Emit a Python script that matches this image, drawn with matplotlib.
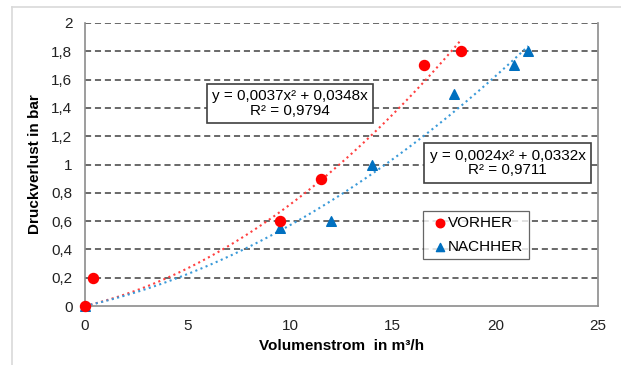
import numpy as np
import matplotlib
matplotlib.use("Agg")
import matplotlib.pyplot as plt
from matplotlib.lines import Line2D

plt.rcParams['font.family'] = ['Liberation Sans', 'DejaVu Sans']

# data
vorher_x = [0, 0.4, 9.5, 11.5, 16.5, 18.3]
vorher_y = [0, 0.2, 0.6, 0.9, 1.7, 1.8]
nachher_x = [0, 9.5, 12.0, 14.0, 18.0, 20.9, 21.6]
nachher_y = [0, 0.55, 0.6, 1.0, 1.5, 1.7, 1.8]

# trendline coefficients (a*x^2 + b*x) as printed
vorher_fit = [0.0037, 0.0348, 0.0]
nachher_fit = [0.0024, 0.0332, 0.0]
vorher_text = "y = 0,0037x\u00b2 + 0,0348x\nR\u00b2 = 0,9794"
nachher_text = "y = 0,0024x\u00b2 + 0,0332x\nR\u00b2 = 0,9711"

yticks = [0, 0.2, 0.4, 0.6, 0.8, 1.0, 1.2, 1.4, 1.6, 1.8, 2.0]
xticks = [0, 5, 10, 15, 20, 25]

fig = plt.figure(figsize=(6.21, 3.65), dpi=100)
ax = fig.add_axes([85 / 621, 1 - 306 / 365, (598 - 85) / 621, (306 - 23) / 365])

# outer chart border (light gray)
fig.add_artist(Line2D([12 / 621, 12 / 621], [0, 1 - 7 / 365], transform=fig.transFigure,
                      color='#d9d9d9', lw=1.2))
fig.add_artist(Line2D([12 / 621, 1], [1 - 7 / 365, 1 - 7 / 365], transform=fig.transFigure,
                      color='#d9d9d9', lw=1.2))

ax.set_xlim(0, 25)
ax.set_ylim(0, 2)

# dashed horizontal grid
for yv in yticks[1:]:
    ax.axhline(yv, color='#404040', lw=1.1, ls=(0, (4, 2.5)), zorder=1)

# trendlines
xr = np.linspace(0, max(vorher_x), 100)
ax.plot(xr, np.polyval(vorher_fit, xr), ls=':', color='#ff4040', lw=1.5, zorder=2)
xb = np.linspace(0, max(nachher_x), 100)
ax.plot(xb, np.polyval(nachher_fit, xb), ls=':', color='#3a9ad9', lw=1.5, zorder=2)

ax.scatter(nachher_x, nachher_y, marker='^', s=48, color='#0070c0', zorder=3,
           label='NACHHER', clip_on=False)
ax.scatter(vorher_x, vorher_y, marker='o', s=52, color='#ff0000', zorder=4,
           label='VORHER', clip_on=False)

ax.set_xticks(xticks)
ax.set_xticklabels([str(v) for v in xticks])
ax.set_yticks(yticks)
ax.set_yticklabels([('%g' % v).replace('.', ',') for v in yticks])
ax.tick_params(length=0, labelsize=11, pad=9, colors='#222222')

for s in ['left', 'bottom', 'right']:
    ax.spines[s].set_color('#8c8c8c')
    ax.spines[s].set_linewidth(1.2)
ax.spines['top'].set_visible(False)

ax.set_xlabel('Volumenstrom  in m\u00b3/h', fontsize=11, fontweight='bold', labelpad=5)
ax.set_ylabel('Druckverlust in bar', fontsize=11, fontweight='bold', labelpad=7)

box = dict(boxstyle='square,pad=0.35', fc='white', ec='#404040', lw=1.2)
ax.text(10.0, 1.43, vorher_text, ha='center', va='center', fontsize=11,
        linespacing=1.05, bbox=box, zorder=5)
ax.text(20.6, 1.01, nachher_text, ha='center', va='center', fontsize=11,
        linespacing=1.05, bbox=box, zorder=5)

h, l = ax.get_legend_handles_labels()
leg = ax.legend(h[::-1], l[::-1], loc='upper left', bbox_to_anchor=((423 - 85) / 513, 1 - (211 - 23) / 283),
                fontsize=11, frameon=True, fancybox=False, handletextpad=-0.2,
                handlelength=1.5, borderpad=0.35, labelspacing=0.6, borderaxespad=0,
                markerscale=0.85)
leg.get_frame().set_edgecolor('#404040')
leg.get_frame().set_linewidth(0.9)
leg.set_zorder(5)

fig.savefig('out.png', dpi=100)
